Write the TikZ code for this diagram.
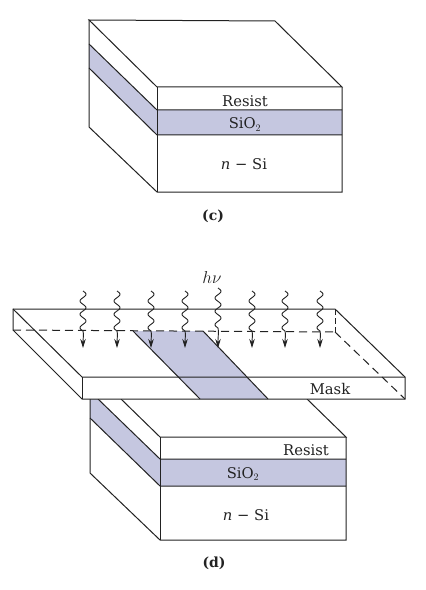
\documentclass[tikz,border=0pt]{standalone}
\usepackage{fontspec}
\setmainfont{DejaVu Serif}
\usetikzlibrary{arrows.meta}
\definecolor{oxide}{HTML}{C5C7E0}
\definecolor{ink}{HTML}{222222}
\tikzset{
  edge/.style={draw=ink,line width=1bp,line join=miter},
  oxidefill/.style={fill=oxide,draw=none},
  dashline/.style={draw=ink,line width=1bp,dash pattern=on 8bp off 5bp},
  lbl/.style={font=\fontsize{14.8}{16}\selectfont,text=ink,inner sep=0pt,anchor=center},
  capt/.style={font=\fontsize{14}{16}\selectfont\bfseries,text=ink,inner sep=0pt,anchor=center},
  ray/.style={draw=ink,line width=0.9bp},
  rayend/.style={draw=ink,line width=0.9bp,-{Stealth[length=9bp,width=5.5bp]}}
}
\begin{document}
\begin{tikzpicture}[x=1bp,y=-1bp]
\useasboundingbox (0,0) rectangle (425,590);
\fill[white] (0,0) rectangle (425,590);

% --- block (c)
\path[oxidefill] (89,44) -- (157,110) -- (342,110) -- (342,135) -- (157,135) -- (89,68) -- cycle;
\draw[edge] (89,20) -- (275,21) -- (342,87) -- (157,87) -- cycle;
\draw[edge] (89,20) -- (89,127) -- (157,192) -- (342,192) -- (342,87);
\draw[edge] (157,87) -- (157,192);
\draw[edge] (89,44) -- (157,110) -- (342,110);
\draw[edge] (89,68) -- (157,135) -- (342,135);
\node[lbl] (c1) at (245,101) {Resist};
\node[lbl] (c2) at (245,124.5) {SiO$_2$};
\node[lbl] (c3) at (244,164) {\textit{n} − Si};
\node[capt] (c4) at (213,216) {(c)};

% --- block (d)
\path[oxidefill] (90,399) -- (98,399) -- (160,459) -- (346,459) -- (346,486) -- (160,486) -- (90,418) -- cycle;
\draw[edge] (121,399) -- (160,437) -- (346,437) -- (307,399);
\draw[edge] (90,399) -- (90,473) -- (160,540) -- (346,540) -- (346,437);
\draw[edge] (160,437) -- (160,540);
\draw[edge] (98,399) -- (160,459) -- (346,459);
\draw[edge] (90,418) -- (160,486) -- (346,486);
\node[lbl] (d1) at (306,450) {Resist};
\node[lbl] (d2) at (243,474) {SiO$_2$};
\node[lbl] (d3) at (246,515) {\textit{n} − Si};
\node[capt] (d4) at (214,563) {(d)};

% --- mask
\fill[white] (13,309) -- (335,309) -- (405,377) -- (405,399) -- (82,399) -- (13,330) -- cycle;
\path[oxidefill] (133,331) -- (203,331) -- (268,399) -- (200,399) -- cycle;
\draw[edge] (133,331) -- (200,399);
\draw[edge] (203,331) -- (268,399);
\draw[dashline] (13,330) -- (335,332);
\draw[draw=ink,line width=1bp,dash pattern=on 6bp off 3bp] (335,309) -- (335,332);
\draw[dashline] (335,332) -- (405,399);
\draw[edge] (13,309) -- (335,309) -- (405,377) -- (405,399) -- (82,399) -- (13,330) -- cycle;
\draw[edge] (13,309) -- (82,377) -- (405,377);
\draw[edge] (82,377) -- (82,399);
\node[lbl] (m) at (330,389) {Mask};
\node[lbl,font=\fontsize{18}{20}\selectfont] (hv) at (212,278) {$h\nu$};

% --- light rays
\foreach \px/\py in {83/291,117/291,151/291,185/291,218/288,252/291,285/291,320/291}{
  \draw[ray,smooth,samples=45,domain=0:1]
    plot ({\px+3*sin(1080*\x)},{\py+\x*40});
  \draw[rayend] (\px,{\py+40}) .. controls (\px+1,{\py+44}) and (\px,{\py+47}) .. (\px,348);
}
\end{tikzpicture}
\end{document}
